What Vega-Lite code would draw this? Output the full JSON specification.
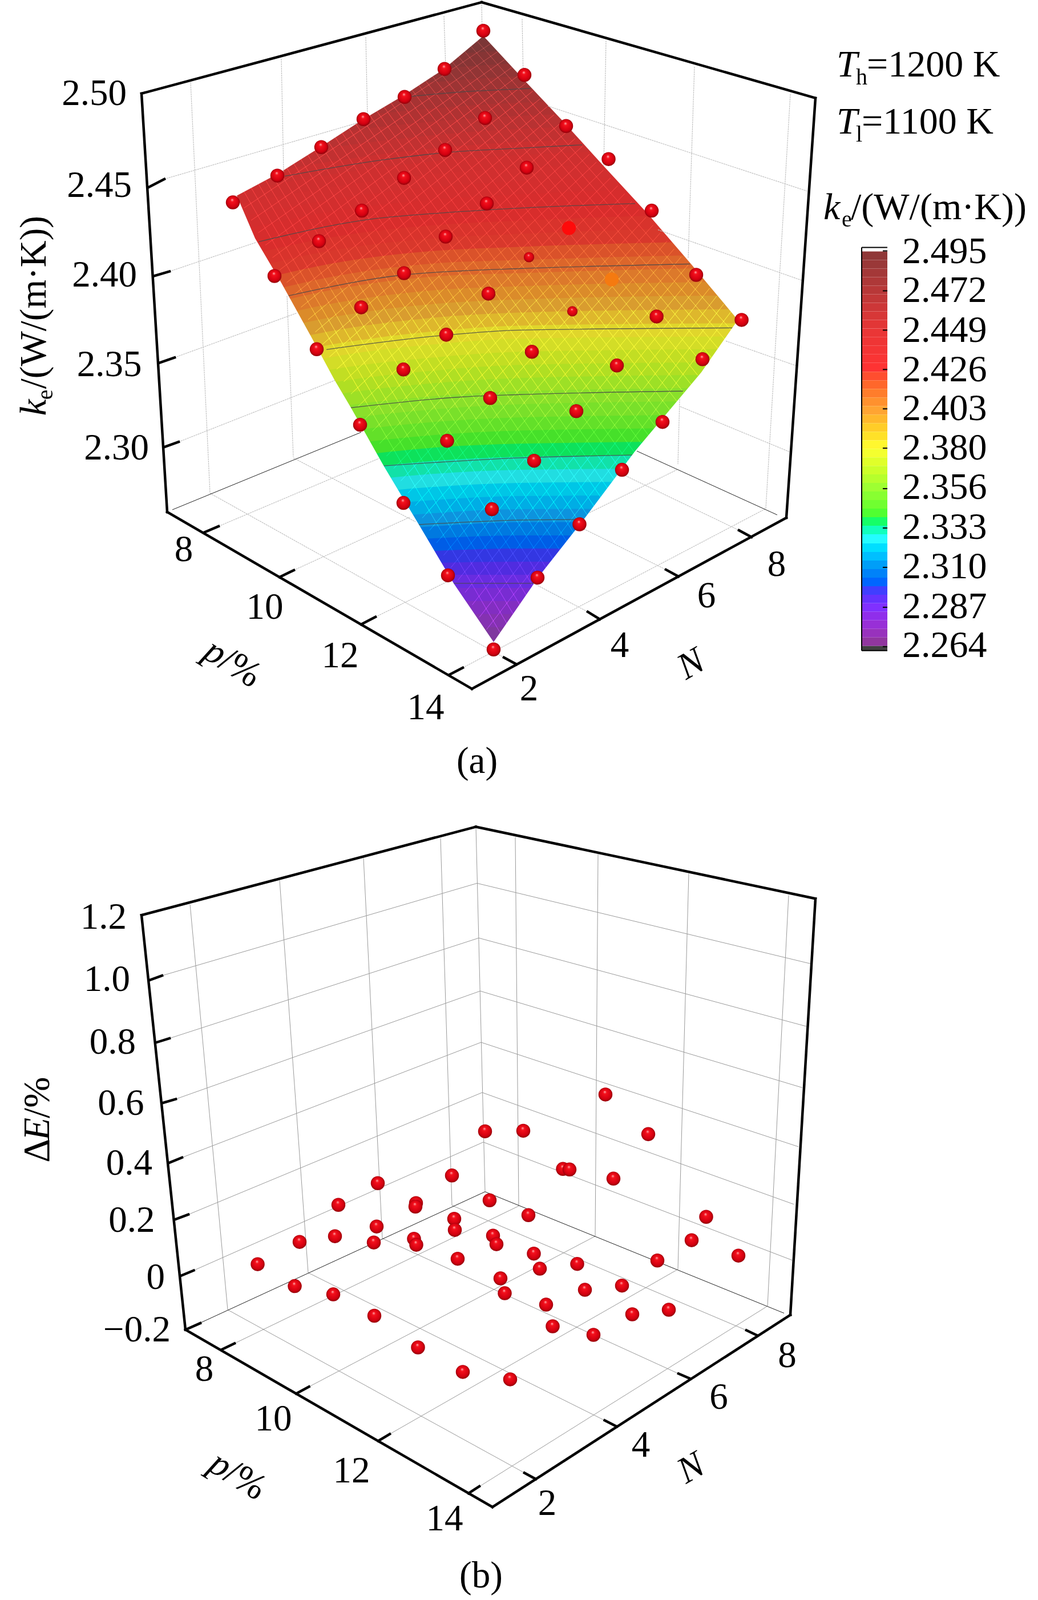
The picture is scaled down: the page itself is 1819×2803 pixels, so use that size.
{
"$schema":"https://vega.github.io/schema/vega-lite/v6.json",
"width":1819,"height":2803,"padding":0,"autosize":{"type":"fit","contains":"padding"},"background":"white",
"config":{"view":{"stroke":null}},
"datasets":{
"bands":[
{"b":2.489,"u":410,"v":95},{"b":2.489,"u":600,"v":62},{"b":2.489,"u":760,"v":49},{"b":2.489,"u":910,"v":40},{"b":2.489,"u":1300,"v":36},
{"b":2.484,"u":410,"v":141},{"b":2.484,"u":600,"v":108},{"b":2.484,"u":760,"v":94},{"b":2.484,"u":910,"v":85},{"b":2.484,"u":1300,"v":80},
{"b":2.479,"u":410,"v":165},{"b":2.479,"u":600,"v":132},{"b":2.479,"u":760,"v":118},{"b":2.479,"u":910,"v":108},{"b":2.479,"u":1300,"v":103},
{"b":2.474,"u":410,"v":190},{"b":2.474,"u":600,"v":155},{"b":2.474,"u":760,"v":141},{"b":2.474,"u":910,"v":131},{"b":2.474,"u":1300,"v":125},
{"b":2.469,"u":410,"v":214},{"b":2.469,"u":600,"v":179},{"b":2.469,"u":760,"v":164},{"b":2.469,"u":910,"v":154},{"b":2.469,"u":1300,"v":148},
{"b":2.464,"u":410,"v":238},{"b":2.464,"u":600,"v":204},{"b":2.464,"u":760,"v":187},{"b":2.464,"u":910,"v":177},{"b":2.464,"u":1300,"v":170},
{"b":2.4595,"u":410,"v":262},{"b":2.4595,"u":600,"v":228},{"b":2.4595,"u":760,"v":210},{"b":2.4595,"u":910,"v":200},{"b":2.4595,"u":1300,"v":191},
{"b":2.455,"u":410,"v":286},{"b":2.455,"u":600,"v":253},{"b":2.455,"u":760,"v":234},{"b":2.455,"u":910,"v":223},{"b":2.455,"u":1300,"v":213},
{"b":2.45,"u":410,"v":311},{"b":2.45,"u":600,"v":277},{"b":2.45,"u":760,"v":257},{"b":2.45,"u":910,"v":246},{"b":2.45,"u":1300,"v":235},
{"b":2.445,"u":410,"v":334},{"b":2.445,"u":600,"v":300},{"b":2.445,"u":760,"v":280},{"b":2.445,"u":910,"v":269},{"b":2.445,"u":1300,"v":257},
{"b":2.44,"u":410,"v":357},{"b":2.44,"u":600,"v":322},{"b":2.44,"u":760,"v":302},{"b":2.44,"u":910,"v":292},{"b":2.44,"u":1300,"v":279},
{"b":2.435,"u":410,"v":380},{"b":2.435,"u":600,"v":344},{"b":2.435,"u":760,"v":325},{"b":2.435,"u":910,"v":315},{"b":2.435,"u":1300,"v":302},
{"b":2.43,"u":410,"v":403},{"b":2.43,"u":600,"v":365},{"b":2.43,"u":760,"v":347},{"b":2.43,"u":910,"v":338},{"b":2.43,"u":1300,"v":324},
{"b":2.425,"u":410,"v":426},{"b":2.425,"u":600,"v":387},{"b":2.425,"u":760,"v":370},{"b":2.425,"u":910,"v":361},{"b":2.425,"u":1300,"v":347},
{"b":2.42,"u":410,"v":450},{"b":2.42,"u":600,"v":410},{"b":2.42,"u":760,"v":392},{"b":2.42,"u":910,"v":384},{"b":2.42,"u":1300,"v":371},
{"b":2.415,"u":410,"v":474},{"b":2.415,"u":600,"v":433},{"b":2.415,"u":760,"v":415},{"b":2.415,"u":910,"v":407},{"b":2.415,"u":1300,"v":395},
{"b":2.41,"u":410,"v":498},{"b":2.41,"u":600,"v":456},{"b":2.41,"u":760,"v":437},{"b":2.41,"u":910,"v":430},{"b":2.41,"u":1300,"v":419},
{"b":2.4055,"u":410,"v":523},{"b":2.4055,"u":600,"v":479},{"b":2.4055,"u":760,"v":459},{"b":2.4055,"u":910,"v":453},{"b":2.4055,"u":1300,"v":443},
{"b":2.4006,"u":410,"v":546},{"b":2.4006,"u":600,"v":502},{"b":2.4006,"u":760,"v":482},{"b":2.4006,"u":910,"v":476},{"b":2.4006,"u":1300,"v":466},
{"b":2.396,"u":410,"v":569},{"b":2.396,"u":600,"v":526},{"b":2.396,"u":760,"v":506},{"b":2.396,"u":910,"v":499},{"b":2.396,"u":1300,"v":491},
{"b":2.391,"u":410,"v":592},{"b":2.391,"u":600,"v":550},{"b":2.391,"u":760,"v":530},{"b":2.391,"u":910,"v":522},{"b":2.391,"u":1300,"v":515},
{"b":2.386,"u":410,"v":615},{"b":2.386,"u":600,"v":574},{"b":2.386,"u":760,"v":554},{"b":2.386,"u":910,"v":545},{"b":2.386,"u":1300,"v":539},
{"b":2.381,"u":410,"v":638},{"b":2.381,"u":600,"v":598},{"b":2.381,"u":760,"v":578},{"b":2.381,"u":910,"v":568},{"b":2.381,"u":1300,"v":564},
{"b":2.376,"u":410,"v":660},{"b":2.376,"u":600,"v":620},{"b":2.376,"u":760,"v":601},{"b":2.376,"u":910,"v":591},{"b":2.376,"u":1300,"v":587},
{"b":2.371,"u":410,"v":680},{"b":2.371,"u":600,"v":642},{"b":2.371,"u":760,"v":624},{"b":2.371,"u":910,"v":614},{"b":2.371,"u":1300,"v":609},
{"b":2.366,"u":410,"v":701},{"b":2.366,"u":600,"v":665},{"b":2.366,"u":760,"v":647},{"b":2.366,"u":910,"v":637},{"b":2.366,"u":1300,"v":632},
{"b":2.361,"u":410,"v":722},{"b":2.361,"u":600,"v":687},{"b":2.361,"u":760,"v":669},{"b":2.361,"u":910,"v":660},{"b":2.361,"u":1300,"v":654},
{"b":2.3565,"u":410,"v":743},{"b":2.3565,"u":600,"v":709},{"b":2.3565,"u":760,"v":692},{"b":2.3565,"u":910,"v":683},{"b":2.3565,"u":1300,"v":677},
{"b":2.352,"u":410,"v":764},{"b":2.352,"u":600,"v":732},{"b":2.352,"u":760,"v":715},{"b":2.352,"u":910,"v":706},{"b":2.352,"u":1300,"v":700},
{"b":2.347,"u":410,"v":785},{"b":2.347,"u":600,"v":754},{"b":2.347,"u":760,"v":737},{"b":2.347,"u":910,"v":729},{"b":2.347,"u":1300,"v":724},
{"b":2.342,"u":410,"v":807},{"b":2.342,"u":600,"v":777},{"b":2.342,"u":760,"v":760},{"b":2.342,"u":910,"v":752},{"b":2.342,"u":1300,"v":747},
{"b":2.337,"u":410,"v":827},{"b":2.337,"u":600,"v":799},{"b":2.337,"u":760,"v":782},{"b":2.337,"u":910,"v":775},{"b":2.337,"u":1300,"v":771},
{"b":2.332,"u":410,"v":848},{"b":2.332,"u":600,"v":822},{"b":2.332,"u":760,"v":805},{"b":2.332,"u":910,"v":798},{"b":2.332,"u":1300,"v":794},
{"b":2.327,"u":410,"v":869},{"b":2.327,"u":600,"v":844},{"b":2.327,"u":760,"v":828},{"b":2.327,"u":910,"v":821},{"b":2.327,"u":1300,"v":818},
{"b":2.322,"u":410,"v":890},{"b":2.322,"u":600,"v":866},{"b":2.322,"u":760,"v":851},{"b":2.322,"u":910,"v":844},{"b":2.322,"u":1300,"v":841},
{"b":2.317,"u":410,"v":911},{"b":2.317,"u":600,"v":889},{"b":2.317,"u":760,"v":874},{"b":2.317,"u":910,"v":867},{"b":2.317,"u":1300,"v":865},
{"b":2.312,"u":410,"v":932},{"b":2.312,"u":600,"v":911},{"b":2.312,"u":760,"v":897},{"b":2.312,"u":910,"v":890},{"b":2.312,"u":1300,"v":889},
{"b":2.307,"u":410,"v":951},{"b":2.307,"u":600,"v":932},{"b":2.307,"u":760,"v":920},{"b":2.307,"u":910,"v":913},{"b":2.307,"u":1300,"v":912},
{"b":2.302,"u":410,"v":966},{"b":2.302,"u":600,"v":951},{"b":2.302,"u":760,"v":941},{"b":2.302,"u":910,"v":936},{"b":2.302,"u":1300,"v":936},
{"b":2.297,"u":410,"v":981},{"b":2.297,"u":600,"v":970},{"b":2.297,"u":760,"v":963},{"b":2.297,"u":910,"v":959},{"b":2.297,"u":1300,"v":959},
{"b":2.293,"u":410,"v":996},{"b":2.293,"u":600,"v":989},{"b":2.293,"u":760,"v":984},{"b":2.293,"u":910,"v":982},{"b":2.293,"u":1300,"v":982},
{"b":2.288,"u":410,"v":1005},{"b":2.288,"u":1300,"v":1005},
{"b":2.283,"u":410,"v":1028},{"b":2.283,"u":1300,"v":1028},
{"b":2.278,"u":410,"v":1051},{"b":2.278,"u":1300,"v":1051},
{"b":2.273,"u":410,"v":1074},{"b":2.273,"u":1300,"v":1074},
{"b":2.268,"u":410,"v":1097},{"b":2.268,"u":1300,"v":1097}
],
"contours":[
{"c":2.472,"u":720,"v":166},{"c":2.472,"u":810,"v":158},{"c":2.472,"u":910,"v":153},{"c":2.472,"u":930,"v":152},
{"c":2.449,"u":499,"v":306},{"c":2.449,"u":667,"v":278},{"c":2.449,"u":788,"v":264},{"c":2.449,"u":910,"v":257},{"c":2.449,"u":1020,"v":251},
{"c":2.426,"u":453,"v":421},{"c":2.426,"u":638,"v":383},{"c":2.426,"u":780,"v":370},{"c":2.426,"u":910,"v":362},{"c":2.426,"u":1113,"v":354},
{"c":2.403,"u":504,"v":516},{"c":2.403,"u":708,"v":479},{"c":2.403,"u":810,"v":472},{"c":2.403,"u":910,"v":468},{"c":2.403,"u":1209,"v":460},
{"c":2.38,"u":572,"v":610},{"c":2.38,"u":778,"v":585},{"c":2.38,"u":910,"v":576},{"c":2.38,"u":1290,"v":572},
{"c":2.356,"u":615,"v":712},{"c":2.356,"u":812,"v":693},{"c":2.356,"u":910,"v":689},{"c":2.356,"u":1197,"v":683},
{"c":2.333,"u":673,"v":814},{"c":2.333,"u":910,"v":800},{"c":2.333,"u":1113,"v":795},
{"c":2.31,"u":734,"v":917},{"c":2.31,"u":910,"v":909},{"c":2.31,"u":1006,"v":908},
{"c":2.287,"u":795,"v":1020},{"c":2.287,"u":910,"v":1020},{"c":2.287,"u":935,"v":1020}
],
"mesh":[
{"u":427.5,"v":361.8,"u2":859.4,"v2":73.8},{"u":440,"v":383.5,"u2":871.8,"v2":87.7},{"u":452.5,"v":405.3,"u2":884.2,"v2":101.5},{"u":465,"v":427,"u2":896.6,"v2":115.3},{"u":477.5,"v":448.8,"u2":909,"v2":129.2},{"u":490,"v":470.5,"u2":921.3,"v2":143},{"u":502.5,"v":492.3,"u2":933.7,"v2":156.8},{"u":515,"v":514,"u2":946.1,"v2":170.6},{"u":527.5,"v":535.8,"u2":958.5,"v2":184.5},{"u":540,"v":557.5,"u2":970.9,"v2":198.3},{"u":552.5,"v":579.3,"u2":983.3,"v2":212.1},{"u":565,"v":601,"u2":995.7,"v2":226},{"u":577.5,"v":622.8,"u2":1008,"v2":239.8},{"u":590,"v":644.5,"u2":1020.5,"v2":253.6},{"u":602.5,"v":666.3,"u2":1032.9,"v2":267.5},{"u":615,"v":688,"u2":1045.2,"v2":281.3},{"u":627.5,"v":709.8,"u2":1057.6,"v2":295.1},{"u":640,"v":731.5,"u2":1070,"v2":308.9},{"u":652.5,"v":753.3,"u2":1082.4,"v2":322.8},{"u":665,"v":775,"u2":1094.8,"v2":336.6},{"u":677.5,"v":796.8,"u2":1107.2,"v2":350.4},{"u":690,"v":818.5,"u2":1119.6,"v2":364.3},{"u":702.5,"v":840.3,"u2":1132,"v2":378.1},{"u":715,"v":862,"u2":1144.4,"v2":391.9},{"u":727.5,"v":883.8,"u2":1156.8,"v2":405.8},{"u":740,"v":905.5,"u2":1169.1,"v2":419.6},{"u":752.5,"v":927.3,"u2":1181.5,"v2":433.4},{"u":765,"v":949,"u2":1193.9,"v2":447.2},{"u":777.5,"v":970.8,"u2":1206.3,"v2":461.1},{"u":790,"v":992.5,"u2":1218.7,"v2":474.9},{"u":802.5,"v":1014.3,"u2":1231.1,"v2":488.7},{"u":815,"v":1036,"u2":1243.5,"v2":502.6},{"u":827.5,"v":1057.8,"u2":1255.9,"v2":516.4},{"u":840,"v":1079.5,"u2":1268.3,"v2":530.2},{"u":852.5,"v":1101.3,"u2":1280.7,"v2":544.1},
{"u":427,"v":332.2,"u2":876.9,"v2":1107.4},{"u":439,"v":324.4,"u2":888.9,"v2":1091.8},{"u":451,"v":316.7,"u2":900.8,"v2":1076.3},{"u":463,"v":308.9,"u2":912.8,"v2":1060.7},{"u":475,"v":301.1,"u2":924.7,"v2":1045.1},{"u":487,"v":293.3,"u2":936.6,"v2":1029.5},{"u":499,"v":285.5,"u2":948.6,"v2":1013.9},{"u":511,"v":277.8,"u2":960.5,"v2":998.4},{"u":523,"v":270,"u2":972.5,"v2":982.8},{"u":535,"v":262.2,"u2":984.4,"v2":967.2},{"u":547,"v":254.4,"u2":996.3,"v2":951.6},{"u":559,"v":246.6,"u2":1008.3,"v2":936},{"u":571,"v":238.9,"u2":1020.2,"v2":920.5},{"u":583,"v":231.1,"u2":1032.2,"v2":904.9},{"u":595,"v":223.3,"u2":1044.1,"v2":889.3},{"u":607,"v":215.5,"u2":1056,"v2":873.7},{"u":619,"v":207.7,"u2":1068,"v2":858.1},{"u":631,"v":200,"u2":1079.9,"v2":842.6},{"u":643,"v":192.2,"u2":1091.9,"v2":827},{"u":655,"v":184.4,"u2":1103.8,"v2":811.4},{"u":667,"v":176.6,"u2":1115.7,"v2":795.8},{"u":679,"v":168.8,"u2":1127.7,"v2":780.2},{"u":691,"v":161.1,"u2":1139.6,"v2":764.7},{"u":703,"v":153.3,"u2":1151.6,"v2":749.1},{"u":715,"v":145.5,"u2":1163.5,"v2":733.5},{"u":727,"v":137.7,"u2":1175.4,"v2":717.9},{"u":739,"v":129.9,"u2":1187.4,"v2":702.3},{"u":751,"v":122.2,"u2":1199.3,"v2":686.8},{"u":763,"v":114.4,"u2":1211.3,"v2":671.2},{"u":775,"v":106.6,"u2":1223.2,"v2":655.6},{"u":787,"v":98.8,"u2":1235.1,"v2":640},{"u":799,"v":91,"u2":1247.1,"v2":624.4},{"u":811,"v":83.3,"u2":1259,"v2":608.9},{"u":823,"v":75.5,"u2":1271,"v2":593.3},{"u":835,"v":67.7,"u2":1282.9,"v2":577.7}
],
"edgeTop":[{"u":408,"v":340},{"u":415,"v":340},{"u":490,"v":300},{"u":563,"v":254},{"u":637,"v":206},{"u":708,"v":164},{"u":778,"v":118},{"u":847,"v":60},{"u":919,"v":138},{"u":985,"v":208},{"u":1055,"v":285},{"u":1136,"v":373},{"u":1211,"v":460},{"u":1293,"v":558},{"u":1302,"v":1136}],
"edgeBottom":[{"u":408,"v":340},{"u":415,"v":340},{"u":447,"v":415},{"u":493,"v":493},{"u":546,"v":589},{"u":586,"v":663},{"u":615,"v":712},{"u":673,"v":815},{"u":734,"v":917},{"u":795,"v":1020},{"u":865,"v":1123},{"u":910,"v":1058},{"u":945,"v":1007},{"u":1026,"v":904},{"u":1113,"v":788},{"u":1229,"v":650},{"u":1293,"v":558},{"u":1302,"v":558}],
"gridA":[
{"u":288,"v":311,"u2":632,"v2":211},{"u":297,"v":473,"u2":449,"v2":422},{"u":306,"v":624,"u2":520,"v2":546},{"u":313,"v":772,"u2":587,"v2":664},
{"u":960,"v":183,"u2":1414,"v2":332},{"u":1153,"v":400,"u2":1406,"v2":489},{"u":1272,"v":595,"u2":1394,"v2":638},{"u":1192,"v":710,"u2":1385,"v2":790},
{"u":334,"v":141,"u2":368,"v2":862},{"u":493,"v":100,"u2":497,"v2":298},{"u":503,"v":516,"u2":514,"v2":798},{"u":641,"v":62,"u2":644,"v2":204},{"u":778,"v":25,"u2":781,"v2":116},{"u":844,"v":1,"u2":845,"v2":60},
{"u":915,"v":30,"u2":917,"v2":136},{"u":1062,"v":68,"u2":1058,"v2":288},{"u":1217,"v":114,"u2":1206,"v2":450},{"u":1191,"v":697,"u2":1188,"v2":811},{"u":1385,"v":162,"u2":1342,"v2":889},
{"u":383,"v":920,"u2":664,"v2":801},{"u":515,"v":997,"u2":718,"v2":904},{"u":658,"v":1079,"u2":790,"v2":1014},{"u":1033,"v":896,"u2":1188,"v2":820},{"u":811,"v":1168,"u2":1342,"v2":889},
{"u":368,"v":862,"u2":883,"v2":1150},{"u":514,"v":800,"u2":728,"v2":912},{"u":935,"v":1020,"u2":1030,"v2":1070},{"u":1016,"v":921,"u2":1167,"v2":996},{"u":1085,"v":826,"u2":1295,"v2":927}
],
"gridB":[
{"u":284,"v":1708,"u2":836,"v2":1546},{"u":297,"v":1818,"u2":839,"v2":1642},{"u":308,"v":1924.5,"u2":841.5,"v2":1735},{"u":319,"v":2027,"u2":843,"v2":1825},{"u":330,"v":2127,"u2":845,"v2":1913},{"u":339.5,"v":2225,"u2":847,"v2":2000},
{"u":836,"v":1546,"u2":1420,"v2":1687},{"u":839,"v":1642,"u2":1413,"v2":1797},{"u":841.5,"v":1735,"u2":1406,"v2":1904.5},{"u":843,"v":1825,"u2":1399,"v2":2008},{"u":845,"v":1913,"u2":1391,"v2":2109},{"u":847,"v":2000,"u2":1388,"v2":2207},
{"u":834,"v":1447,"u2":850,"v2":2087},
{"u":333,"v":1583,"u2":399,"v2":2294},{"u":490,"v":1541,"u2":540,"v2":2229},{"u":637,"v":1502,"u2":670,"v2":2169},{"u":772,"v":1467,"u2":792,"v2":2111},
{"u":903,"v":1465,"u2":909,"v2":2112},{"u":1048,"v":1495,"u2":1043,"v2":2165},{"u":1207,"v":1529,"u2":1188,"v2":2223},{"u":1382,"v":1567,"u2":1345,"v2":2287.5},
{"u":411,"v":2353,"u2":909,"v2":2112},{"u":541.5,"v":2429,"u2":1043,"v2":2165},{"u":683,"v":2512,"u2":1188,"v2":2223},{"u":840,"v":2604,"u2":1345,"v2":2287.5},
{"u":919,"v":2580,"u2":399,"v2":2294},{"u":1059.6,"v":2488,"u2":540,"v2":2229},{"u":1189,"v":2406,"u2":670,"v2":2169},{"u":1308,"v":2330,"u2":792,"v2":2111}
],
"thin":[
{"u":302,"v":891,"u2":633,"v2":755},{"u":1116,"v":788,"u2":1362,"v2":900},
{"u":351,"v":2317,"u2":850,"v2":2087},{"u":850,"v":2087,"u2":1374,"v2":2300}
],
"axes":[
{"u":248,"v":161,"u2":844,"v2":1},{"u":844,"v":1,"u2":1429,"v2":169},{"u":248,"v":161,"u2":293,"v2":895},{"u":1429,"v":169,"u2":1378,"v2":905},{"u":293,"v":895,"u2":827,"v2":1205},{"u":827,"v":1205,"u2":1378,"v2":905},
{"u":261,"v":325,"u2":288,"v2":311},{"u":270,"v":481,"u2":297,"v2":473},{"u":280,"v":633,"u2":306,"v2":624},{"u":288,"v":781,"u2":313,"v2":772},
{"u":357,"v":931,"u2":383,"v2":920},{"u":490,"v":1009,"u2":515,"v2":997},{"u":633,"v":1092,"u2":658,"v2":1079},{"u":788,"v":1180,"u2":811,"v2":1168},
{"u":905,"v":1162,"u2":883,"v2":1150},{"u":1051,"v":1083,"u2":1030,"v2":1070},{"u":1189,"v":1008,"u2":1167,"v2":996},{"u":1317,"v":939,"u2":1295,"v2":927},
{"u":248,"v":1602,"u2":834,"v2":1447},{"u":834,"v":1447,"u2":1429,"v2":1573},{"u":248,"v":1602,"u2":325,"v2":2329},{"u":1429,"v":1573,"u2":1385,"v2":2303},{"u":325,"v":2329,"u2":863,"v2":2640},{"u":863,"v":2640,"u2":1385,"v2":2303},
{"u":262,"v":1716,"u2":284,"v2":1708},{"u":274.5,"v":1825,"u2":297,"v2":1818},{"u":286,"v":1931,"u2":308,"v2":1924.5},{"u":297,"v":2036,"u2":319,"v2":2027},{"u":306,"v":2136,"u2":330,"v2":2127},{"u":318,"v":2234,"u2":339.5,"v2":2225},{"u":325,"v":2329,"u2":351,"v2":2317.5},
{"u":388,"v":2364,"u2":411,"v2":2353},{"u":519,"v":2441,"u2":541.5,"v2":2429},{"u":663,"v":2524,"u2":683,"v2":2512},{"u":821,"v":2616,"u2":840,"v2":2603.6},
{"u":939,"v":2591,"u2":919,"v2":2580},{"u":1081,"v":2499,"u2":1059.6,"v2":2488},{"u":1210,"v":2415,"u2":1189,"v2":2406},{"u":1327,"v":2339,"u2":1308,"v2":2330}
],
"legendBar":[
{"val":2.492,"u":1510,"u2":1555,"v":438,"v2":453},{"val":2.487,"u":1510,"u2":1555,"v":453,"v2":468},{"val":2.482,"u":1510,"u2":1555,"v":468,"v2":483},{"val":2.477,"u":1510,"u2":1555,"v":483,"v2":498},{"val":2.472,"u":1510,"u2":1555,"v":498,"v2":513},{"val":2.467,"u":1510,"u2":1555,"v":513,"v2":528},{"val":2.462,"u":1510,"u2":1555,"v":528,"v2":543},{"val":2.457,"u":1510,"u2":1555,"v":543,"v2":558},{"val":2.452,"u":1510,"u2":1555,"v":558,"v2":573},{"val":2.447,"u":1510,"u2":1555,"v":573,"v2":588},{"val":2.442,"u":1510,"u2":1555,"v":588,"v2":603},{"val":2.437,"u":1510,"u2":1555,"v":603,"v2":618},{"val":2.432,"u":1510,"u2":1555,"v":618,"v2":633},{"val":2.427,"u":1510,"u2":1555,"v":633,"v2":649},{"val":2.422,"u":1510,"u2":1555,"v":649,"v2":664},{"val":2.417,"u":1510,"u2":1555,"v":664,"v2":679},{"val":2.412,"u":1510,"u2":1555,"v":679,"v2":694},{"val":2.407,"u":1510,"u2":1555,"v":694,"v2":709},{"val":2.402,"u":1510,"u2":1555,"v":709,"v2":724},{"val":2.397,"u":1510,"u2":1555,"v":724,"v2":739},{"val":2.392,"u":1510,"u2":1555,"v":739,"v2":754},{"val":2.387,"u":1510,"u2":1555,"v":754,"v2":769},{"val":2.382,"u":1510,"u2":1555,"v":769,"v2":784},{"val":2.377,"u":1510,"u2":1555,"v":784,"v2":799},{"val":2.372,"u":1510,"u2":1555,"v":799,"v2":814},{"val":2.367,"u":1510,"u2":1555,"v":814,"v2":829},{"val":2.362,"u":1510,"u2":1555,"v":829,"v2":844},{"val":2.357,"u":1510,"u2":1555,"v":844,"v2":859},{"val":2.352,"u":1510,"u2":1555,"v":859,"v2":874},{"val":2.347,"u":1510,"u2":1555,"v":874,"v2":889},{"val":2.342,"u":1510,"u2":1555,"v":889,"v2":904},{"val":2.337,"u":1510,"u2":1555,"v":904,"v2":919},{"val":2.332,"u":1510,"u2":1555,"v":919,"v2":934},{"val":2.327,"u":1510,"u2":1555,"v":934,"v2":950},{"val":2.322,"u":1510,"u2":1555,"v":950,"v2":965},{"val":2.317,"u":1510,"u2":1555,"v":965,"v2":980},{"val":2.312,"u":1510,"u2":1555,"v":980,"v2":995},{"val":2.307,"u":1510,"u2":1555,"v":995,"v2":1010},{"val":2.302,"u":1510,"u2":1555,"v":1010,"v2":1025},{"val":2.297,"u":1510,"u2":1555,"v":1025,"v2":1040},{"val":2.292,"u":1510,"u2":1555,"v":1040,"v2":1055},{"val":2.287,"u":1510,"u2":1555,"v":1055,"v2":1070},{"val":2.282,"u":1510,"u2":1555,"v":1070,"v2":1085},{"val":2.277,"u":1510,"u2":1555,"v":1085,"v2":1100},{"val":2.272,"u":1510,"u2":1555,"v":1100,"v2":1115},{"val":2.267,"u":1510,"u2":1555,"v":1115,"v2":1130}
],
"legendLines":[
{"u":1510,"v":431,"u2":1510,"v2":1138},{"u":1510,"v":431,"u2":1555,"v2":431},{"u":1510,"v":1138,"u2":1555,"v2":1138},
{"u":1547,"v":437,"u2":1555,"v2":437},{"u":1547,"v":507,"u2":1555,"v2":507},{"u":1547,"v":576,"u2":1555,"v2":576},{"u":1547,"v":645,"u2":1555,"v2":645},{"u":1547,"v":714,"u2":1555,"v2":714},{"u":1547,"v":783,"u2":1555,"v2":783},{"u":1547,"v":854,"u2":1555,"v2":854},{"u":1547,"v":923,"u2":1555,"v2":923},{"u":1547,"v":992,"u2":1555,"v2":992},{"u":1547,"v":1062,"u2":1555,"v2":1062},{"u":1547,"v":1131,"u2":1555,"v2":1131}
],
"spheres":[
{"u":847,"v":51},{"u":779,"v":118},{"u":709,"v":167},{"u":637,"v":206},{"u":563,"v":255},{"u":486,"v":305},{"u":408,"v":352},
{"u":850,"v":204},{"u":780,"v":260},{"u":708,"v":309},{"u":634,"v":366.5},{"u":559,"v":420},{"u":481,"v":481},
{"u":853,"v":354},{"u":781,"v":412},{"u":708,"v":476},{"u":633,"v":536},{"u":555,"v":609.5},
{"u":856,"v":512},{"u":782,"v":584},{"u":707,"v":645},{"u":859,"v":695},{"u":783.5,"v":770},{"u":631,"v":742},{"u":707,"v":879},{"u":862,"v":890},{"u":785,"v":1006},{"u":865,"v":1136},
{"u":919,"v":128.5},{"u":992,"v":218},{"u":1066.5,"v":276},{"u":1142,"v":366.5},{"u":923,"v":291},{"u":1220,"v":479},{"u":1150.6,"v":552},{"u":1299.6,"v":558},{"u":932,"v":614},{"u":1081,"v":638},{"u":1231,"v":627},
{"u":1010,"v":718},{"u":1161,"v":737},{"u":936,"v":805},{"u":1090,"v":821},{"u":1015.5,"v":916.5},{"u":942,"v":1010},
{"u":850,"v":1981},{"u":662,"v":2072},{"u":792,"v":2058.5},{"u":917,"v":1980},{"u":1061,"v":1916.5},{"u":1136,"v":1986},{"u":986.5,"v":2047},{"u":998,"v":2048},{"u":1075,"v":2064},
{"u":451.5,"v":2214},{"u":525,"v":2175},{"u":587,"v":2165},{"u":660,"v":2148},{"u":593,"v":2110},{"u":729,"v":2107},{"u":728,"v":2113},{"u":796,"v":2134.5},{"u":797,"v":2154},{"u":858,"v":2102},{"u":655,"v":2176},{"u":725.5,"v":2169.5},{"u":729.5,"v":2180},{"u":864,"v":2164},{"u":870,"v":2179},{"u":802,"v":2204.5},{"u":877,"v":2239},{"u":884.5,"v":2265},{"u":516.5,"v":2252.5},{"u":584,"v":2267},{"u":656,"v":2304.5},{"u":732.5,"v":2360},{"u":811,"v":2403},{"u":894,"v":2416},
{"u":926,"v":2128},{"u":1237.5,"v":2131},{"u":1212,"v":2172},{"u":1294,"v":2199},{"u":935.5,"v":2195.5},{"u":946,"v":2222},{"u":1011.5,"v":2213.5},{"u":1152,"v":2207.6},{"u":1090,"v":2251.6},{"u":1025,"v":2259},{"u":957,"v":2285},{"u":1108,"v":2302},{"u":1172,"v":2294},{"u":968.5,"v":2323},{"u":1040,"v":2338}
],
"smallSpheres":[{"u":927,"v":448},{"u":1003,"v":543}],
"sunken":[{"u":997,"v":397,"col":"#ff0a0a"},{"u":1072,"v":487,"col":"#f57a10"}],
"textRight":[
{"t":"2.50","u":222,"v":181},{"t":"2.45","u":231,"v":342},{"t":"2.40","u":240,"v":500},{"t":"2.35","u":248.5,"v":657},{"t":"2.30","u":261,"v":803},
{"t":"1.2","u":222,"v":1625.5},{"t":"1.0","u":228,"v":1735},{"t":"0.8","u":238,"v":1845},{"t":"0.6","u":252.5,"v":1952},{"t":"0.4","u":267,"v":2057.6},{"t":"0.2","u":271.6,"v":2157},{"t":"0","u":289,"v":2257},{"t":"−0.2","u":299,"v":2350}
],
"textCenter":[
{"t":"8","u":322,"v":981},{"t":"10","u":464,"v":1082},{"t":"12","u":596,"v":1167},{"t":"14","u":746,"v":1258},
{"t":"2","u":927,"v":1225},{"t":"4","u":1086,"v":1149},{"t":"6","u":1238,"v":1062},{"t":"8","u":1361,"v":1007},
{"t":"(a)","u":836,"v":1352},
{"t":"8","u":358,"v":2419},{"t":"10","u":479,"v":2506},{"t":"12","u":616,"v":2597},{"t":"14","u":779,"v":2681},
{"t":"2","u":959,"v":2654},{"t":"4","u":1123,"v":2552},{"t":"6","u":1259.6,"v":2468},{"t":"8","u":1379.6,"v":2395},
{"t":"(b)","u":843,"v":2781}
],
"textLeft":[
{"t":"=1200 K","u":1519,"v":131},{"t":"=1100 K","u":1510,"v":231},{"t":"/(W/(m·K))","u":1491,"v":381},
{"t":"2.495","u":1581,"v":458},{"t":"2.472","u":1581,"v":527},{"t":"2.449","u":1581,"v":597},{"t":"2.426","u":1581,"v":666},{"t":"2.403","u":1581,"v":734},{"t":"2.380","u":1581,"v":803},{"t":"2.356","u":1581,"v":872},{"t":"2.333","u":1581,"v":942},{"t":"2.310","u":1581,"v":1011},{"t":"2.287","u":1581,"v":1081},{"t":"2.264","u":1581,"v":1149}
],
"textItalic":[{"t":"T","u":1466,"v":131},{"t":"T","u":1466,"v":231},{"t":"k","u":1443,"v":381}],
"textSub":[{"t":"h","u":1500,"v":145},{"t":"l","u":1500,"v":245},{"t":"e","u":1475,"v":394}],
"rotRegular":[
{"t":"/(W/(m·K))","u":80,"v":679,"a":270},{"t":"Δ","u":86,"v":2036,"a":270},{"t":"/%","u":86,"v":1958,"a":270},
{"t":"/%","u":380,"v":1166,"a":32},{"t":"/%","u":389,"v":2591,"a":32}
],
"rotItalic":[
{"t":"k","u":80,"v":726,"a":270},{"t":"E","u":86,"v":1997,"a":270},
{"t":"p","u":353,"v":1149,"a":32},{"t":"p","u":362,"v":2574,"a":32}
],
"rotN":[{"t":"N","u":1221,"v":1179,"a":330},{"t":"N","u":1221,"v":2589,"a":330}],
"rotSub":[{"t":"e","u":92,"v":698,"a":270}]
},
"encoding":{
"x":{"field":"u","type":"quantitative","axis":null,"scale":{"domain":[0,1819],"nice":false,"zero":false}},
"y":{"field":"v","type":"quantitative","axis":null,"stack":null,"scale":{"domain":[0,2803],"reverse":true,"nice":false,"zero":false}}
},
"layer":[
{"data":{"name":"bands"},"mark":{"type":"area","interpolate":"monotone"},
 "encoding":{"y2":{"datum":1136},"detail":{"field":"b","type":"quantitative"},
  "fill":{"field":"b","type":"quantitative","legend":null,"scale":{"domain":[2.264,2.275,2.287,2.296,2.31,2.3276,2.333,2.339,2.356,2.38,2.39,2.403,2.415,2.426,2.449,2.472,2.495],"range":["#7a3a92","#8630b8","#6c2ce0","#3e2ce0","#2c88d8","#2ce0e0","#2ce098","#2ce02c","#88e02c","#e0dc2c","#d8a030","#dc702c","#d8382c","#d82c2c","#cc3030","#a03333","#6e3636"]}}}},
{"data":{"name":"mesh"},"mark":{"type":"rule","stroke":"#505050","strokeWidth":1,"blend":"color-dodge"},
 "encoding":{"x2":{"field":"u2"},"y2":{"field":"v2"}}},
{"data":{"name":"contours"},"mark":{"type":"line","stroke":"#4a4a4a","strokeWidth":1.3,"opacity":0.85,"interpolate":"monotone"},
 "encoding":{"detail":{"field":"c","type":"nominal"}}},
{"data":{"name":"edgeTop"},"mark":{"type":"area","fill":"white"},"encoding":{"y2":{"datum":25}}},
{"data":{"name":"edgeBottom"},"mark":{"type":"area","fill":"white"},"encoding":{"y2":{"datum":1140}}},
{"data":{"name":"gridA"},"mark":{"type":"rule","stroke":"#bdbdbd","strokeWidth":1.1,"strokeDash":[3,1]},
 "encoding":{"x2":{"field":"u2"},"y2":{"field":"v2"}}},
{"data":{"name":"gridB"},"mark":{"type":"rule","stroke":"#9a9a9a","strokeWidth":1},
 "encoding":{"x2":{"field":"u2"},"y2":{"field":"v2"}}},
{"data":{"name":"thin"},"mark":{"type":"rule","stroke":"#222222","strokeWidth":1},
 "encoding":{"x2":{"field":"u2"},"y2":{"field":"v2"}}},
{"data":{"name":"legendBar"},"mark":{"type":"rect"},
 "encoding":{"x2":{"field":"u2"},"y2":{"field":"v2"},
  "color":{"field":"val","type":"quantitative","legend":null,"scale":{"domain":[2.264,2.275,2.287,2.296,2.31,2.3276,2.333,2.339,2.356,2.38,2.403,2.426,2.449,2.472,2.495],"range":["#8b3a8f","#9a30d0","#8030ff","#4a33ff","#3090f0","#33ffff","#33ffaa","#33ff33","#99ff33","#ffff33","#ffa033","#ff3333","#e83636","#b83838","#8a3838"]}}}},
{"data":{"values":[{"u":1510,"u2":1555,"v":1130,"v2":1138}]},"mark":{"type":"rect","fill":"#404040"},
 "encoding":{"x2":{"field":"u2"},"y2":{"field":"v2"}}},
{"data":{"name":"legendLines"},"mark":{"type":"rule","stroke":"black","strokeWidth":2},
 "encoding":{"x2":{"field":"u2"},"y2":{"field":"v2"}}},
{"data":{"name":"axes"},"mark":{"type":"rule","stroke":"black","strokeWidth":4.5,"strokeCap":"square"},
 "encoding":{"x2":{"field":"u2"},"y2":{"field":"v2"}}},
{"data":{"name":"spheres"},"mark":{"type":"point","shape":"circle","filled":true,"opacity":1,"size":600,
  "fill":{"gradient":"radial","x1":0.45,"y1":0.3,"r1":0,"x2":0.5,"y2":0.5,"r2":0.55,"stops":[{"offset":0,"color":"#ffb4b4"},{"offset":0.22,"color":"#f4101c"},{"offset":0.7,"color":"#d40010"},{"offset":1,"color":"#800008"}]}}},
{"data":{"name":"smallSpheres"},"mark":{"type":"point","shape":"circle","filled":true,"opacity":1,"size":330,
  "fill":{"gradient":"radial","x1":0.45,"y1":0.3,"r1":0,"x2":0.5,"y2":0.5,"r2":0.55,"stops":[{"offset":0,"color":"#ffb4b4"},{"offset":0.22,"color":"#f4101c"},{"offset":0.7,"color":"#d40010"},{"offset":1,"color":"#800008"}]}}},
{"data":{"name":"sunken"},"mark":{"type":"point","shape":"circle","filled":true,"opacity":1,"size":600},
 "encoding":{"fill":{"field":"col","type":"nominal","scale":null}}},
{"data":{"name":"textRight"},"mark":{"type":"text","font":"Liberation Serif","fontSize":65,"align":"right","baseline":"alphabetic","fill":"black"},"encoding":{"text":{"field":"t"}}},
{"data":{"name":"textCenter"},"mark":{"type":"text","font":"Liberation Serif","fontSize":65,"align":"center","baseline":"alphabetic","fill":"black"},"encoding":{"text":{"field":"t"}}},
{"data":{"name":"textLeft"},"mark":{"type":"text","font":"Liberation Serif","fontSize":66,"align":"left","baseline":"alphabetic","fill":"black"},"encoding":{"text":{"field":"t"}}},
{"data":{"name":"textItalic"},"mark":{"type":"text","font":"Liberation Serif","fontStyle":"italic","fontSize":66,"align":"left","baseline":"alphabetic","fill":"black"},"encoding":{"text":{"field":"t"}}},
{"data":{"name":"textSub"},"mark":{"type":"text","font":"Liberation Serif","fontSize":40,"align":"left","baseline":"alphabetic","fill":"black"},"encoding":{"text":{"field":"t"}}},
{"data":{"name":"rotRegular"},"mark":{"type":"text","font":"Liberation Serif","fontSize":65,"align":"left","baseline":"alphabetic","fill":"black"},"encoding":{"text":{"field":"t"},"angle":{"field":"a","type":"quantitative","scale":null}}},
{"data":{"name":"rotItalic"},"mark":{"type":"text","font":"Liberation Serif","fontStyle":"italic","fontSize":65,"align":"left","baseline":"alphabetic","fill":"black"},"encoding":{"text":{"field":"t"},"angle":{"field":"a","type":"quantitative","scale":null}}},
{"data":{"name":"rotN"},"mark":{"type":"text","font":"Liberation Serif","fontStyle":"italic","fontSize":65,"align":"center","baseline":"alphabetic","fill":"black"},"encoding":{"text":{"field":"t"},"angle":{"field":"a","type":"quantitative","scale":null}}},
{"data":{"name":"rotSub"},"mark":{"type":"text","font":"Liberation Serif","fontSize":40,"align":"left","baseline":"alphabetic","fill":"black"},"encoding":{"text":{"field":"t"},"angle":{"field":"a","type":"quantitative","scale":null}}}
]
}
